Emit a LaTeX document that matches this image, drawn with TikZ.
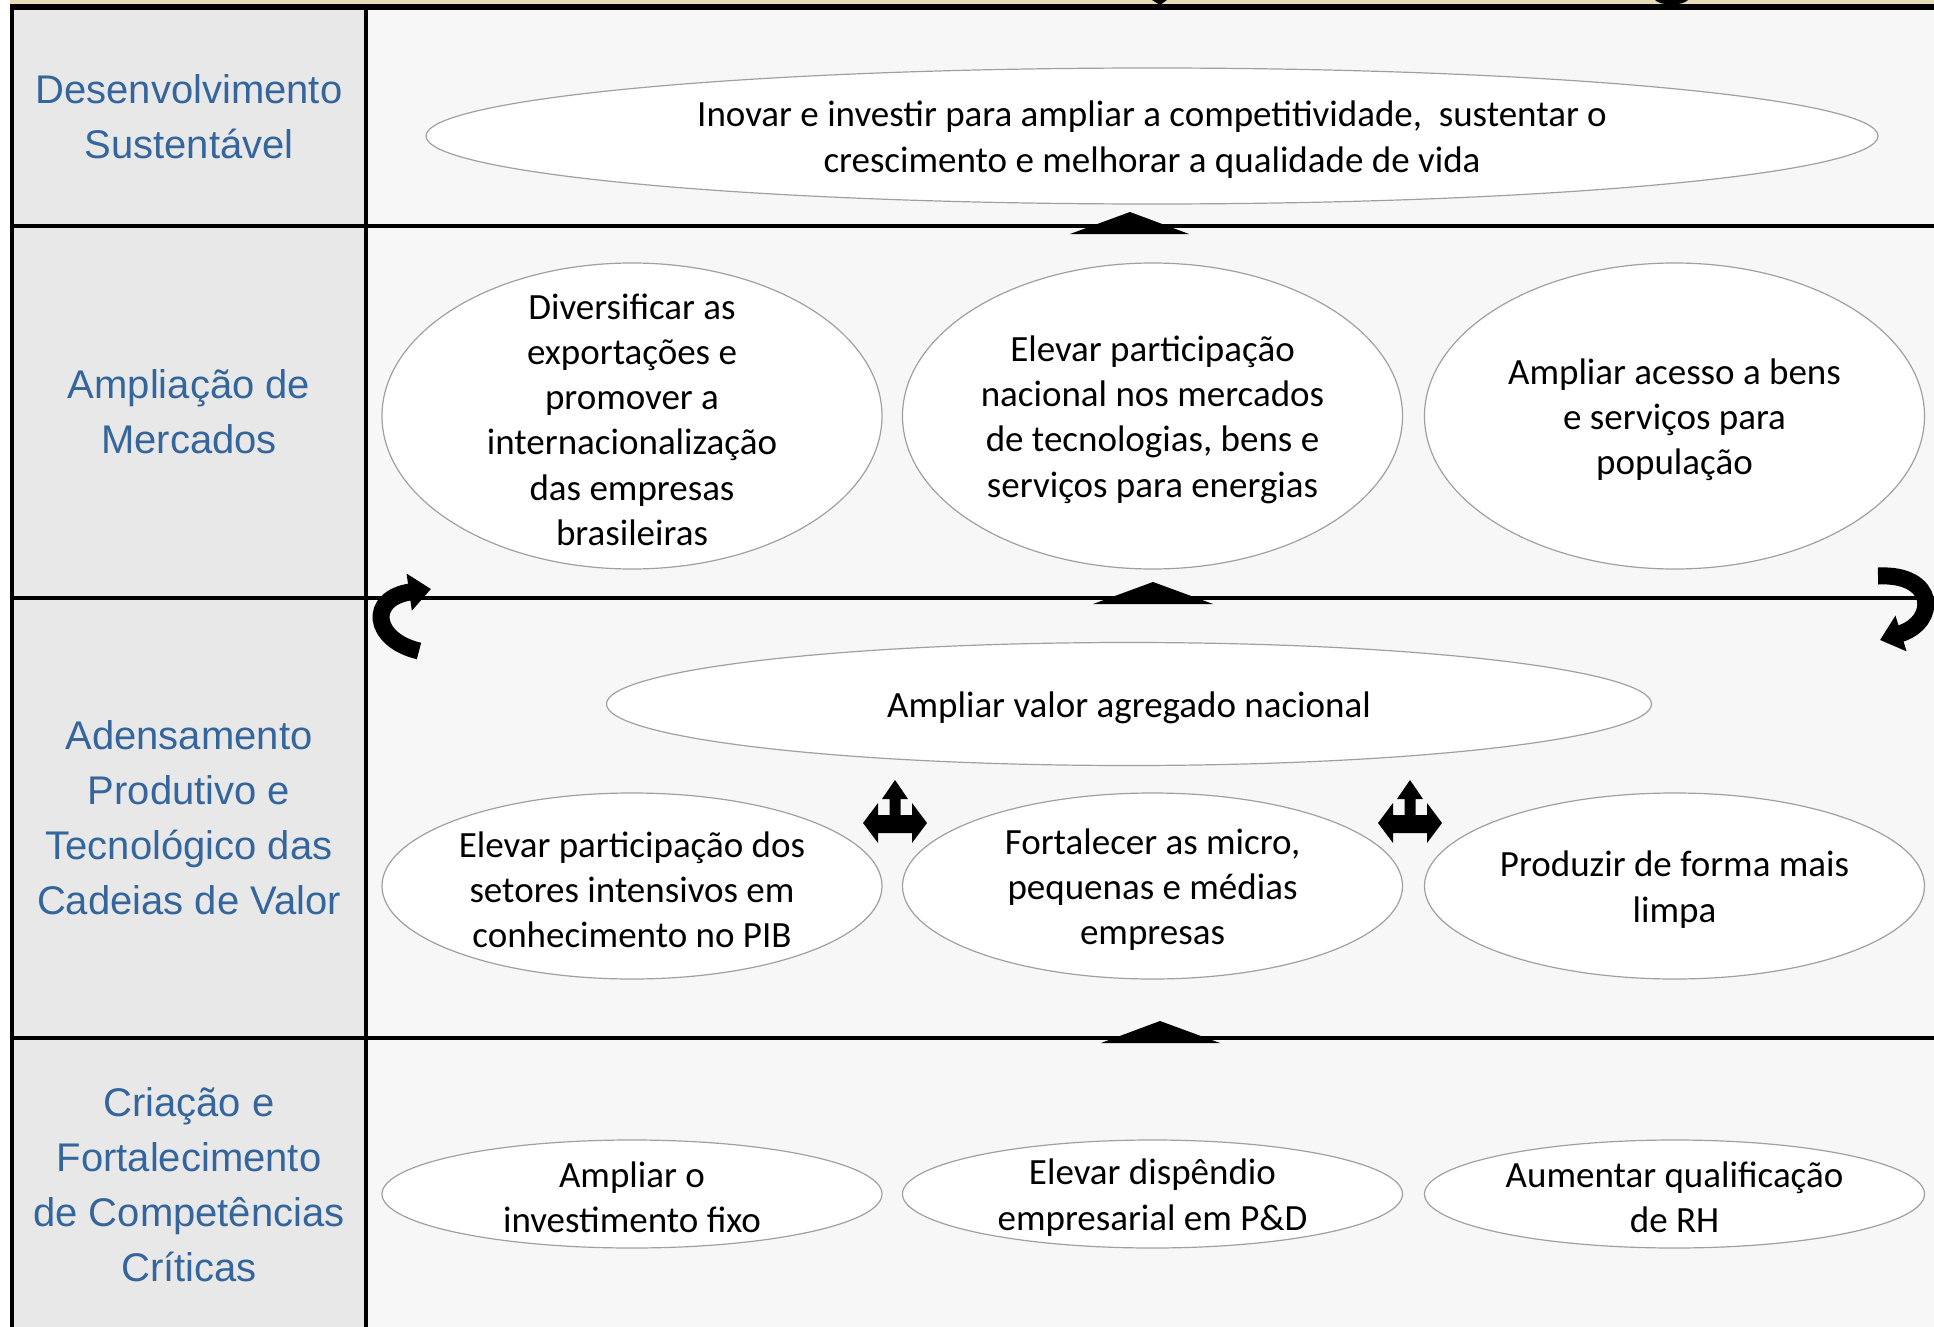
\documentclass[tikz,border=0pt]{standalone}
\usepackage{fontspec}
\setmainfont{Carlito}
\newfontfamily\labfont{Liberation Sans}
\usetikzlibrary{shapes.geometric,arrows.meta}
\definecolor{labblue}{RGB}{52,101,156}
\definecolor{leftbg}{RGB}{232,232,232}
\definecolor{rightbg}{RGB}{247,247,247}
\definecolor{beige}{RGB}{230,221,184}
\definecolor{ellline}{RGB}{160,160,160}
\tikzset{
  ell/.style={ellipse, draw=ellline, line width=0.6pt, fill=white, inner sep=0pt},
  etxt/.style={align=center, font=\fontsize{18.5pt}{22.6pt}\selectfont, text=black, inner sep=0pt, yshift=-1.8pt},
  lab/.style={align=center, font=\labfont\fontsize{20pt}{27.5pt}\selectfont, text=labblue, inner sep=0pt},
  rule/.style={line width=1.6pt, black},
  uptri/.style={fill=black, draw=none},
  curvarrow/.style={line width=8.5pt, black, -{Triangle[width=18pt,length=11pt]}}
}
\begin{document}
\begin{tikzpicture}[x=0.5pt,y=-0.5pt]
\useasboundingbox (0,0) rectangle (1934,1327);
% backgrounds
\fill[white] (0,0) rectangle (1934,1327);
\fill[leftbg] (12,8) rectangle (366,1327);
\fill[rightbg] (366,8) rectangle (1934,1327);
\fill[beige] (10,0) rectangle (1934,4.5);
\fill[black] (10,4) rectangle (1934,10);
\fill[black] (1152,0) -- (1167,0) -- (1160,5) -- cycle;
\fill[black] (1655,0) .. controls (1660,6) and (1683,6) .. (1688,0) -- cycle;
% frame lines
\coordinate (tl) at (12,7);
\coordinate (bl) at (12,1327);
\coordinate (dt) at (366,7);
\coordinate (db) at (366,1327);
\draw[line width=2pt] (tl) -- (bl);
\draw[rule] (dt) -- (db);
\coordinate (r1a) at (12,226); \coordinate (r1b) at (1934,226);
\coordinate (r2a) at (12,598); \coordinate (r2b) at (1934,598);
\coordinate (r3a) at (12,1038); \coordinate (r3b) at (1934,1038);
\draw[rule] (r1a) -- (r1b);
\draw[rule] (r2a) -- (r2b);
\draw[rule] (r3a) -- (r3b);
% left labels
\node[lab] (L1) at (189,117) {Desenvolvimento\\Sustentável};
\node[lab] (L2) at (189,412) {Ampliação de\\Mercados};
\node[lab] (L3) at (189,818) {Adensamento\\Produtivo e\\Tecnológico das\\Cadeias de Valor};
\node[lab] (L4) at (189,1185) {Criação e\\Fortalecimento\\de Competências\\Críticas};
% row 1
\node[ell, minimum width=726pt, minimum height=68pt] (E1) at (1152,136) {};
\node[etxt] (T1) at (E1) {Inovar e investir para ampliar a competitividade,~ sustentar o\\crescimento e melhorar a qualidade de vida};
% row 2
\node[ell, minimum width=250pt, minimum height=153pt] (E2a) at (632,416) {};
\node[ell, minimum width=250pt, minimum height=153pt] (E2b) at (1152.5,416) {};
\node[ell, minimum width=250pt, minimum height=153pt] (E2c) at (1674.5,416) {};
\node[etxt] (T2a) at (E2a) {Diversificar as\\exportações e\\promover a\\internacionalização\\das empresas\\brasileiras};
\node[etxt] (T2b) at (E2b) {Elevar participação\\nacional nos mercados\\de tecnologias, bens e\\serviços para energias};
\node[etxt] (T2c) at (E2c) {Ampliar acesso a bens\\e serviços para\\população};
% row 3
\node[ell, minimum width=522.5pt, minimum height=61.5pt] (E3) at (1129,704) {};
\node[etxt] (T3) at (E3) {Ampliar valor agregado nacional};
\node[ell, minimum width=250pt, minimum height=93pt] (E3a) at (632,886) {};
\node[ell, minimum width=250pt, minimum height=93pt] (E3b) at (1152.5,886) {};
\node[ell, minimum width=250pt, minimum height=93pt] (E3c) at (1674.5,886) {};
\node[etxt] (T3a) at (E3a) {Elevar participação dos\\setores intensivos em\\conhecimento no PIB};
\node[etxt] (T3b) at (E3b) {Fortalecer as micro,\\pequenas e médias\\empresas};
\node[etxt] (T3c) at (E3c) {Produzir de forma mais\\limpa};
% row 4
\node[ell, minimum width=250pt, minimum height=54pt] (E4a) at (632,1194) {};
\node[ell, minimum width=250pt, minimum height=54pt] (E4b) at (1152.5,1194) {};
\node[ell, minimum width=250pt, minimum height=54pt] (E4c) at (1674.5,1194) {};
\node[etxt] (T4a) at (E4a) {Ampliar o\\investimento fixo};
\node[etxt] (T4b) at (E4b) {Elevar dispêndio\\empresarial em P\&D};
\node[etxt] (T4c) at (E4c) {Aumentar qualificação\\de RH};
% up triangles
\fill[uptri] (1070,234) -- (1130,212) -- (1189,234) -- cycle;
\fill[uptri] (1093,604) -- (1153,582) -- (1213,604) -- cycle;
\fill[uptri] (1101,1043) -- (1160,1021) -- (1220,1043) -- cycle;
% three-way arrows
\foreach \cx in {895,1410}{
  \fill[black] (\cx,780) -- (\cx+13,799) -- (\cx+5.5,799) -- (\cx+5.5,815) -- (\cx+17,815) -- (\cx+17,803)
    -- (\cx+32,823) -- (\cx+17,843) -- (\cx+17,833) -- (\cx-17,833) -- (\cx-17,843) -- (\cx-32,823)
    -- (\cx-17,803) -- (\cx-17,815) -- (\cx-5.5,815) -- (\cx-5.5,799) -- (\cx-13,799) -- cycle;
}
% curved arrows
\coordinate (cl0) at (419,651);
\coordinate (cl1) at (431,589);
\draw[curvarrow] (cl0) .. controls (372,640) and (368,598) .. (cl1);
\coordinate (cr0) at (1878,576);
\coordinate (cr1) at (1880,640);
\draw[curvarrow] (cr0) .. controls (1937,573) and (1938,622) .. (cr1);
\end{tikzpicture}
\end{document}
